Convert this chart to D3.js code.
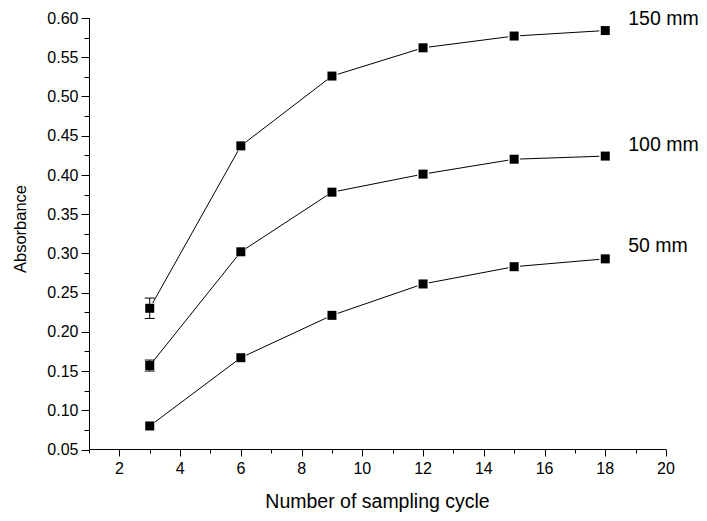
<!DOCTYPE html>
<html><head><meta charset="utf-8">
<script src="https://cdn.jsdelivr.net/npm/d3@7"></script>
<style>body{margin:0;background:#fff}svg{display:block}text{font-family:Arial,"Liberation Sans",sans-serif;fill:#000}</style>
</head><body>
<svg id="c" width="707" height="521"></svg>
<script>
const cycles = [3, 6, 9, 12, 15, 18];
const abs150 = [0.230, 0.437, 0.526, 0.562, 0.577, 0.584];
const abs100 = [0.157, 0.302, 0.378, 0.401, 0.420, 0.424];
const abs50  = [0.080, 0.167, 0.221, 0.261, 0.283, 0.293];
const err150 = [0.013, 0, 0, 0, 0, 0];
const err100 = [0.007, 0, 0, 0, 0, 0];
const err50  = [0, 0, 0, 0, 0, 0];
const seriesNames = ["150 mm", "100 mm", "50 mm"];
const xTicks = [2, 4, 6, 8, 10, 12, 14, 16, 18, 20];
const yTicks = [0.05, 0.10, 0.15, 0.20, 0.25, 0.30, 0.35, 0.40, 0.45, 0.50, 0.55, 0.60];
const xTitle = "Number of sampling cycle";
const yTitle = "Absorbance";

const series = [
  {name: seriesNames[0], v: abs150, e: err150, dy: -12},
  {name: seriesNames[1], v: abs100, e: err100, dy: -12},
  {name: seriesNames[2], v: abs50, e: err50, dy: -14}
];

const svg = d3.select("#c");
const x = d3.scaleLinear().domain([1, 20]).range([89, 666]);
const y = d3.scaleLinear().domain([0.05, 0.60]).range([449.5, 18]);

// Axes
const xAxis = svg.append("g").attr("transform", "translate(0,449.5)");
xAxis.append("line").attr("x1", x(1)).attr("x2", x(20)).attr("stroke", "#000");
const xMin = d3.range(1, 21, 1);
xAxis.selectAll(".xt").data(xMin).join("line")
  .attr("x1", d => Math.round(x(d)) + 0.5).attr("x2", d => Math.round(x(d)) + 0.5)
  .attr("y1", 0).attr("y2", d => xTicks.includes(d) ? 7 : 4).attr("stroke", "#000");
xAxis.selectAll(".xl").data(xTicks).join("text")
  .attr("x", d => x(d)).attr("y", 24).attr("text-anchor", "middle")
  .style("font-size", "16px").text(d => d);

const yAxis = svg.append("g").attr("transform", "translate(89.5,0)");
yAxis.append("line").attr("y1", y(0.05)).attr("y2", y(0.60)).attr("stroke", "#000");
const yMin = d3.range(0, 23).map(i => 0.05 + i * 0.025);
yAxis.selectAll(".yt").data(yMin).join("line")
  .attr("y1", d => Math.round(y(d)) + 0.5).attr("y2", d => Math.round(y(d)) + 0.5)
  .attr("x1", 0).attr("x2", (d, i) => i % 2 === 0 ? -8 : -5).attr("stroke", "#000");
yAxis.selectAll(".yl").data(yTicks).join("text")
  .attr("x", -11).attr("y", d => y(d)).attr("dy", "0.35em").attr("text-anchor", "end")
  .style("font-size", "16px").text(d => d.toFixed(2));

svg.append("text").attr("x", (x(1) + x(20)) / 2).attr("y", 508)
  .attr("text-anchor", "middle").style("font-size", "19.5px").text(xTitle);
svg.append("text").attr("transform", `translate(26,229) rotate(-90)`)
  .attr("text-anchor", "middle").style("font-size", "16.5px").text(yTitle);

// Series
const gap = 6;
series.forEach(s => {
  const pts = cycles.map((c, i) => [x(c), y(s.v[i])]);
  const g = svg.append("g");
  for (let i = 0; i < pts.length - 1; i++) {
    const [x1, y1] = pts[i], [x2, y2] = pts[i + 1];
    const dx = x2 - x1, dy = y2 - y1, L = Math.hypot(dx, dy);
    const ux = dx / L, uy = dy / L;
    g.append("line")
      .attr("x1", x1 + ux * gap).attr("y1", y1 + uy * gap)
      .attr("x2", x2 - ux * gap).attr("y2", y2 - uy * gap)
      .attr("stroke", "#000").attr("stroke-width", 1);
  }
  cycles.forEach((c, i) => {
    if (s.e[i] > 0) {
      const cx = x(c), t = y(s.v[i] + s.e[i]), b = y(s.v[i] - s.e[i]);
      g.append("line").attr("x1", cx).attr("x2", cx).attr("y1", t).attr("y2", b).attr("stroke", "#000");
      [t, b].forEach(yy => g.append("line").attr("x1", cx - 5).attr("x2", cx + 5)
        .attr("y1", yy).attr("y2", yy).attr("stroke", "#000"));
    }
  });
  g.selectAll("rect").data(cycles).join("rect")
    .attr("x", (d) => x(d) - 4.5).attr("y", (d, i) => y(s.v[i]) - 4.5)
    .attr("width", 9).attr("height", 9).attr("fill", "#000");
  const last = cycles.length - 1;
  svg.append("text").attr("x", x(cycles[last]) + 23).attr("y", y(s.v[last]) + s.dy)
    .attr("dy", "0.35em").style("font-size", "19.5px").text(s.name);
});
</script>
</body></html>
